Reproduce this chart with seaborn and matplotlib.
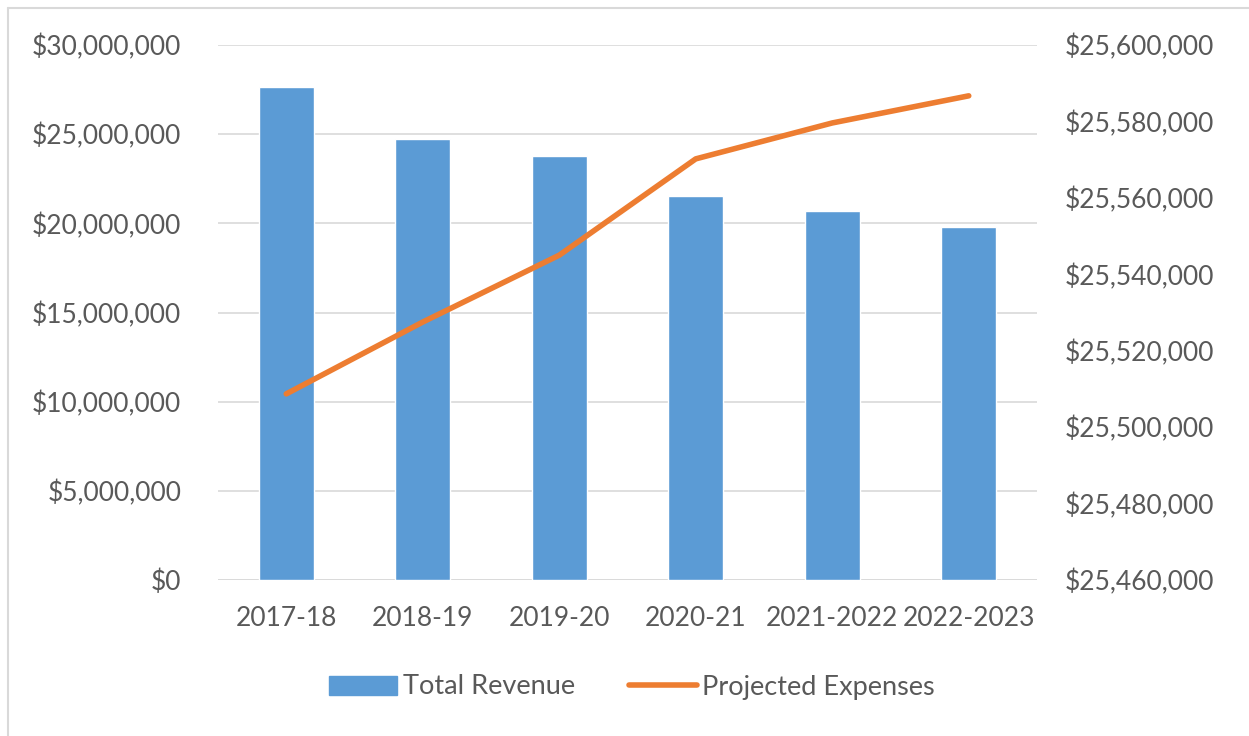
import matplotlib
matplotlib.use("Agg")
import matplotlib.pyplot as plt
import seaborn as sns
import pandas as pd
from matplotlib.patches import Patch
from matplotlib.lines import Line2D
from matplotlib.ticker import FuncFormatter

# Données
annees = ["2017-18", "2018-19", "2019-20", "2020-21", "2021-2022", "2022-2023"]
revenus = [27630000, 24710000, 23780000, 21550000, 20670000, 19810000]
depenses = [25508700, 25527500, 25545000, 25570200, 25579600, 25586700]

bleu = "#5b9bd5"
orange = "#ed7d31"
gris = "#595959"

sns.set_theme(style="white")
plt.rcParams["font.family"] = ["Lato", "DejaVu Sans"]

df = pd.DataFrame({"annee": annees, "revenu": revenus, "depense": depenses})

fig = plt.figure(figsize=(12.49, 7.36), dpi=100)
ax = fig.add_axes([218 / 1249, 1 - 580 / 736, (1037 - 218) / 1249, (580 - 45) / 736])

sns.barplot(data=df, x="annee", y="revenu", color=bleu, width=0.4, saturation=1, ax=ax, zorder=2)
ax.set_ylim(0, 30000000)
ax.set_yticks(range(0, 30000001, 5000000))
ax.yaxis.set_major_formatter(FuncFormatter(lambda v, p: f"${v:,.0f}"))
ax.grid(axis="y", color="#d9d9d9", linewidth=1.2, zorder=0)
ax.set_axisbelow(True)

ax2 = ax.twinx()
sns.lineplot(x=list(range(len(annees))), y=depenses, color=orange, linewidth=4,
             solid_capstyle="round", ax=ax2, zorder=3)
ax2.set_ylim(25460000, 25600000)
ax2.set_yticks(range(25460000, 25600001, 20000))
ax2.yaxis.set_major_formatter(FuncFormatter(lambda v, p: f"${v:,.0f}"))
ax.set_xlim(-0.5, len(annees) - 0.5)

for a in (ax, ax2):
    for s in a.spines.values():
        s.set_visible(False)
    a.set_xlabel("")
    a.set_ylabel("")
    a.tick_params(length=0, labelsize=19, labelcolor=gris)
ax.tick_params(axis="y", pad=26.5)
ax2.tick_params(axis="y", pad=20)
ax.tick_params(axis="x", pad=19)
ax.axhline(0, color="#d9d9d9", linewidth=1.2, zorder=1)

handles = [Patch(facecolor=bleu, edgecolor=bleu),
           Line2D([0], [0], color=orange, linewidth=4, solid_capstyle="round")]
fig.legend(handles, ["Total Revenue", "Projected Expenses"], loc="center",
           bbox_to_anchor=(632 / 1249, 1 - 687 / 736), ncol=2, frameon=False,
           fontsize=19.5, labelcolor=gris, handlelength=2.5, handletextpad=0.2, columnspacing=2.0)

# bordure du cadre
fig.add_artist(Line2D([8 / 1249, 8 / 1249], [0, 1 - 8 / 736], color="#d9d9d9", linewidth=1.5))
fig.add_artist(Line2D([8 / 1249, 1], [1 - 8 / 736, 1 - 8 / 736], color="#d9d9d9", linewidth=1.5))

fig.savefig("out.png", dpi=100, facecolor="white")
